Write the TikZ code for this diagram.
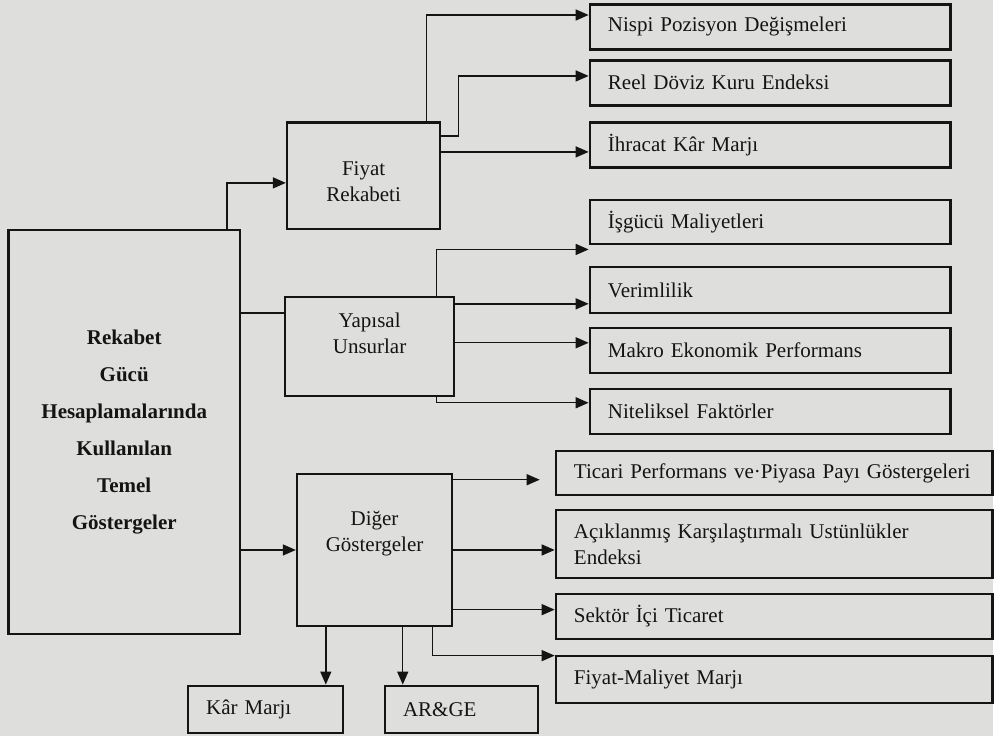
\documentclass[tikz,border=0pt]{standalone}
\usepackage{fontspec}
\setmainfont{Liberation Serif}
\usetikzlibrary{arrows.meta,calc}
\definecolor{bg}{RGB}{222,222,220}
\definecolor{ink}{RGB}{20,20,20}
\begin{document}
\begin{tikzpicture}[x=1pt,y=-1pt,
  box/.style={draw=ink, line width=2.6pt, fill=bg, anchor=north west, inner sep=0pt,
    font=\fontsize{21}{26}\selectfont, text=ink},
  lbox/.style={box, align=left, inner xsep=18pt, text width=#1},
  txt/.style={align=center, font=\fontsize{21}{26}\selectfont, text=ink},
  conn/.style={draw=ink, line width=1.4pt},
  arr/.style={conn, -{Triangle[length=13pt,width=11pt]}},
]
\fill[bg] (0,0) rectangle (994,736);

% main box
\node[box, minimum width=232pt, minimum height=404pt, align=center,
      font=\fontsize{21}{37}\selectfont\bfseries] (main) at (7,229)
  {Rekabet\\Gücü\\Hesaplamalarında\\Kullanılan\\Temel\\Göstergeler};

% middle boxes
\node[box, minimum width=153pt, minimum height=107pt,
      label={[name=fiyattxt, txt, yshift=-6pt]center:Fiyat\\Rekabeti}] (fiyat) at (286,121) {};
\node[box, minimum width=169pt, minimum height=99pt,
      label={[name=yapisaltxt, txt, yshift=13pt]center:Yapısal\\Unsurlar}] (yapisal) at (284,296) {};
\node[box, minimum width=155pt, minimum height=152pt,
      label={[name=digertxt, txt, yshift=16pt]center:Diğer\\Göstergeler}] (diger) at (296,473) {};

% bottom boxes
\node[lbox=119pt, minimum height=47pt] (kar) at (187,685) {Kâr Marjı};
\node[lbox=117pt, minimum height=47pt] (arge) at (384,685) {AR\&GE};

% right boxes
\node[lbox=325pt, minimum height=45pt] (nispi) at (589,3) {Nispi Pozisyon Değişmeleri};
\node[lbox=325pt, minimum height=45pt] (reel) at (589,59) {Reel Döviz Kuru Endeksi};
\node[lbox=325pt, minimum height=45pt] (ihracat) at (589,121) {İhracat Kâr Marjı};
\node[lbox=325pt, minimum height=44pt] (isgucu) at (589,199) {İşgücü Maliyetleri};
\node[lbox=325pt, minimum height=46pt] (verim) at (589,266) {Verimlilik};
\node[lbox=325pt, minimum height=45pt] (makro) at (589,327) {Makro Ekonomik Performans};
\node[lbox=325pt, minimum height=45pt] (nitel) at (589,388) {Niteliksel Faktörler};

\node[lbox=401pt, minimum height=44pt] (ticari) at (555,450) {Ticari Performans ve·Piyasa Payı Göstergeleri};
\node[lbox=401pt, minimum height=68pt] (acik) at (555,509) {Açıklanmış Karşılaştırmalı Ustünlükler\\Endeksi};
\node[lbox=401pt, minimum height=45pt] (sektor) at (555,593) {Sektör İçi Ticaret};
\node[lbox=401pt, minimum height=47pt] (fiyatmal) at (555,655) {Fiyat-Maliyet Marjı};

% connectors from main
\draw[arr] ([xshift=220pt]main.north west) |- ([yshift=-62pt]fiyat.north west);
\draw[conn] ([yshift=-84pt]main.north east) coordinate (m2) -- (m2 -| yapisal.west);
\draw[arr] (diger.west -| main.east) -- (diger.west);

% from Fiyat Rekabeti
\draw[arr] ([xshift=141pt]fiyat.north west) |- ([yshift=-12pt]nispi.north west);
\draw[arr] ([yshift=-15pt]fiyat.north east) -- ++(17,0) |- ([yshift=-17pt]reel.north west);
\draw[arr] ([yshift=-31pt]fiyat.north east) coordinate (f3) -- (f3 -| ihracat.west);

% from Yapisal Unsurlar
\draw[arr] ([xshift=153pt]yapisal.north west) |- ([yshift=-4pt]isgucu.south west);
\draw[arr] ([yshift=-8pt]yapisal.north east) coordinate (y2) -- (y2 -| verim.west);
\draw[arr] ([yshift=-47pt]yapisal.north east) coordinate (y3) -- (y3 -| makro.west);
\draw[arr] ([xshift=153pt]yapisal.south west) |- ([yshift=-15pt]nitel.north west);

% from Diger Gostergeler
\draw[arr] ([yshift=-7pt]diger.north east) coordinate (d1) -- ($(d1 -| ticari.west)+(-15,0)$);
\draw[arr] (diger.east) -- (diger.east -| acik.west);
\draw[arr] ([yshift=-137pt]diger.north east) coordinate (d3) -- (d3 -| sektor.west);
\draw[arr] ([xshift=137pt]diger.south west) |- ([yshift=-1pt]fiyatmal.north west);
\draw[arr] ([xshift=30pt]diger.south west) coordinate (d5) -- (d5 |- kar.north);
\draw[arr] ([xshift=107pt]diger.south west) coordinate (d6) -- (d6 |- arge.north);
\end{tikzpicture}
\end{document}
